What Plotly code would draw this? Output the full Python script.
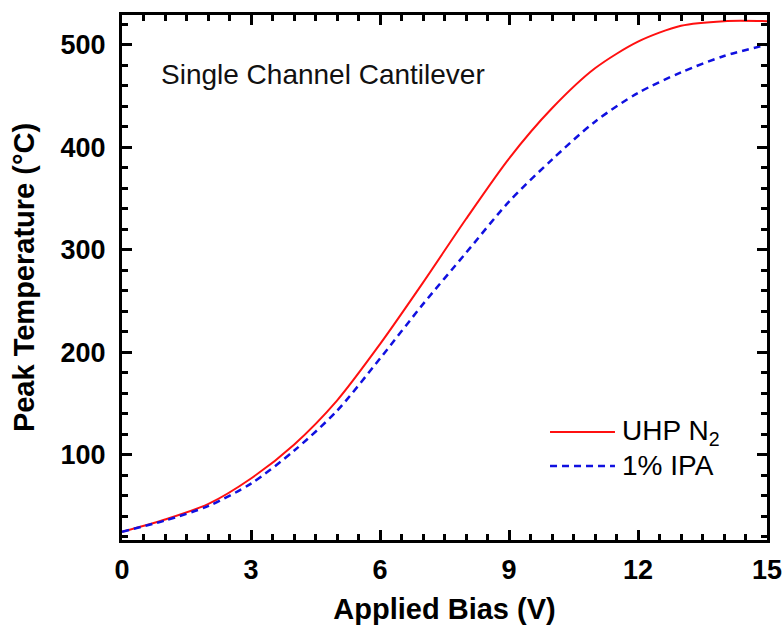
import plotly.graph_objects as go

bias_v = [0, 1, 2, 3, 4, 5, 6, 7, 8, 9, 10, 11, 12, 13, 14, 15]
temp_uhp_n2 = [25, 37, 52, 77, 110, 153, 208, 268, 330, 389, 438, 477, 503, 518.5, 523, 523]
temp_ipa = [25, 36, 50, 72, 104, 143, 194, 247, 297, 347, 388, 425, 453, 473, 489, 500]

x_ticks = [0, 3, 6, 9, 12, 15]
y_ticks = [100, 200, 300, 400, 500]

series_names = ["UHP N<sub>2</sub>", "1% IPA"]
series_colors = ["#ff1010", "#1010e0"]

fig = go.Figure()
fig.add_trace(go.Scatter(
    x=bias_v, y=temp_uhp_n2, mode="lines", name=series_names[0], showlegend=False,
    line=dict(color=series_colors[0], width=2, shape="spline", smoothing=0.8),
))
fig.add_trace(go.Scatter(
    x=bias_v, y=temp_ipa, mode="lines", name=series_names[1], showlegend=False,
    line=dict(color=series_colors[1], width=2.5, dash="7px,5px", shape="spline", smoothing=0.8),
))

axis_common = dict(
    showline=True, linecolor="black", linewidth=3, mirror="allticks",
    ticks="inside", ticklen=10, tickwidth=3, tickcolor="black",
    showgrid=False, zeroline=False, automargin=False,
    ticklabeloverflow="allow",
    tickfont=dict(family="Liberation Sans, Arial", size=27, color="black", weight="bold"),
)

fig.update_xaxes(
    range=[0, 15], tickvals=x_ticks, ticktext=[str(v) for v in x_ticks],
    minor=dict(dtick=0.5, ticks="inside", ticklen=6, tickwidth=2.5, tickcolor="black", showgrid=False),
    title=dict(text="<b>Applied Bias (V)</b>", font=dict(family="Liberation Sans, Arial", size=29, color="black"), standoff=15),
    ticklabelstandoff=4,
    **axis_common,
)
fig.update_yaxes(
    range=[17, 529], tickvals=y_ticks, ticktext=[str(v) for v in y_ticks],
    minor=dict(dtick=20, tick0=0, ticks="inside", ticklen=6, tickwidth=2.5, tickcolor="black", showgrid=False),
    title=dict(text="<b>Peak Temperature (°C)</b>", font=dict(family="Liberation Sans, Arial", size=29, color="black"), standoff=18),
    ticklabelstandoff=8,
    **axis_common,
)

fig.add_annotation(
    text="Single Channel Cantilever", xref="paper", yref="paper",
    x=0.058, y=0.886, xanchor="left", yanchor="middle", showarrow=False,
    font=dict(family="Liberation Sans, Arial", size=28, color="#111111"),
)

# Legend drawn manually (sample line + label) to match the reference layout
legend_y = [0.2057, 0.141]
legend_dash = ["solid", "7px,5px"]
legend_width = [2, 2.5]
for name, color, ly, dash, lw in zip(series_names, series_colors, legend_y, legend_dash, legend_width):
    fig.add_shape(
        type="line", xref="paper", yref="paper",
        x0=0.6636, x1=0.7643, y0=ly, y1=ly,
        line=dict(color=color, width=lw, dash=dash),
    )
    fig.add_annotation(
        text=name, xref="paper", yref="paper",
        x=0.772, y=ly, xanchor="left", yanchor="middle", showarrow=False,
        font=dict(family="Liberation Sans, Arial", size=28, color="black"),
    )

fig.update_layout(
    width=782, height=628,
    margin=dict(l=122, r=15, t=15, b=88),
    paper_bgcolor="white", plot_bgcolor="white",
    showlegend=False,
)

fig.write_html(
    "out.html",
    config={"displayModeBar": False},
    post_script="document.body.style.margin='0';document.body.style.overflow='hidden';",
)
